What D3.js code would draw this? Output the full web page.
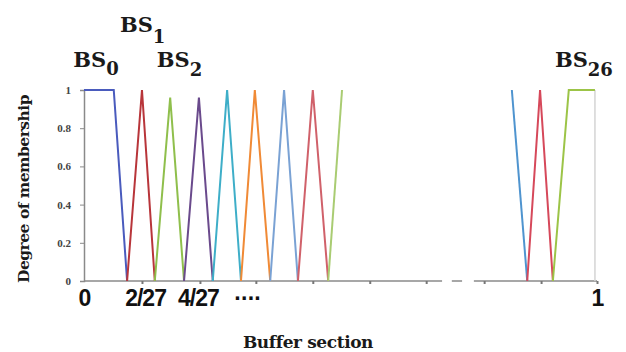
<!DOCTYPE html><html>
<head>
<meta charset="utf-8">
<title>Buffer section membership</title>
<style>
  body { margin: 0; background: #fff; }
  svg text { font-family: "DejaVu Serif", serif; }
</style>
</head><body>
<svg width="626" height="352"></svg>

<script src="https://cdn.jsdelivr.net/npm/d3@7"></script>
<script>
// membership functions: [x, degree] corners
var sections = [
  { name: 'BS0',  color: '#4a5bbd', pts: [[0, 1], [0.058, 1], [0.084, 0]] },
  { name: 'BS1',  color: '#b8353a', pts: [[0.084, 0], [0.113, 1], [0.138, 0]] },
  { name: 'BS2',  color: '#8fbf4c', pts: [[0.138, 0], [0.168, 0.96], [0.195, 0]] },
  { name: 'BS3',  color: '#6a4a8c', pts: [[0.195, 0], [0.224, 0.96], [0.251, 0]] },
  { name: 'BS4',  color: '#3eaec8', pts: [[0.251, 0], [0.279, 1], [0.306, 0]] },
  { name: 'BS5',  color: '#f08a36', pts: [[0.306, 0], [0.333, 1], [0.363, 0]] },
  { name: 'BS6',  color: '#7aa2d4', pts: [[0.363, 0], [0.390, 1], [0.417, 0]] },
  { name: 'BS7',  color: '#d0616a', pts: [[0.417, 0], [0.446, 1], [0.476, 0]] },
  { name: 'BS8',  color: '#a9cc72', pts: [[0.476, 0], [0.503, 1]] },
  { name: 'BS24', color: '#4f94cf', pts: [[0.834, 1], [0.864, 0]] },
  { name: 'BS25', color: '#d6485a', pts: [[0.864, 0], [0.889, 1], [0.914, 0]] },
  { name: 'BS26', color: '#9cc447', pts: [[0.914, 0], [0.945, 1], [0.996, 1]] }
];

var yTicks = [0, 0.2, 0.4, 0.6, 0.8, 1];
var xMinorTicks = [0.113, 0.226, 0.335, 0.446, 0.557, 0.667, 0.780, 0.891, 1];
var xLabelPos = [0, 0.119, 0.222, 0.318, 1];
var xLabels = ['0', '2/27', '4/27', '\u00b7\u00b7\u00b7\u00b7', '1'];
// broken x axis: solid, dash, solid
var axisPieces = [[0, 0.698], [0.717, 0.737], [0.760, 1]];

var bsLabels = [
  { main: 'BS', sub: '0',  x: -0.021, y: 1.12, dy: 8 },
  { main: 'BS', sub: '1',  x: 0.070, y: 1.305, dy: 11 },
  { main: 'BS', sub: '2',  x: 0.142, y: 1.12, dy: 9 },
  { main: 'BS', sub: '26', x: 0.918, y: 1.12, dy: 9 }
];

var svg = d3.select('svg');
var x = d3.scaleLinear().domain([0, 1]).range([84, 597]);
var y = d3.scaleLinear().domain([0, 1]).range([281, 90]);

// y axis
var ya = svg.append('g')
    .attr('transform', 'translate(84,0)')
    .call(d3.axisLeft(y).tickValues(yTicks).tickSize(4).tickPadding(9)
      .tickFormat(function(d) { return d === 0 || d === 1 ? d : d.toFixed(1); }));
ya.select('.domain').attr('stroke', '#8a8a8a').attr('stroke-width', 1.5);
ya.selectAll('.tick line').attr('stroke', '#8a8a8a');
ya.selectAll('.tick text')
    .attr('fill', '#444')
    .style('font-family', '"Liberation Serif", serif')
    .style('font-size', '11px')
    .style('font-weight', 'bold');

// x axis pieces
svg.selectAll('line.xa')
    .data(axisPieces)
  .enter()
    .append('line')
    .attr('class', 'xa')
    .attr('x1', function(d) { return x(d[0]); })
    .attr('x2', function(d) { return x(d[1]); })
    .attr('y1', y(0))
    .attr('y2', y(0))
    .attr('stroke', '#8a8a8a')
    .attr('stroke-width', 1.5);

var xt = svg.append('g')
    .attr('transform', 'translate(0,' + y(0) + ')')
    .call(d3.axisBottom(x).tickValues(xMinorTicks).tickSize(3).tickFormat(''));
xt.select('.domain').remove();
xt.selectAll('.tick line').attr('stroke', '#777').attr('stroke-width', 2);

var xl = svg.append('g')
    .attr('transform', 'translate(0,' + y(0) + ')')
    .call(d3.axisBottom(x).tickValues(xLabelPos).tickSize(0).tickPadding(9)
      .tickFormat(function(d, i) { return xLabels[i]; }));
xl.select('.domain').remove();
xl.selectAll('.tick text')
    .attr('fill', '#111')
    .style('font-family', '"Liberation Sans", Arial, sans-serif')
    .style('font-size', '23px')
    .style('font-weight', 'bold')
    .style('letter-spacing', '-1px');

// light right edge of the plot
svg.append('line')
    .attr('x1', x(0.996)).attr('x2', x(0.996))
    .attr('y1', y(1)).attr('y2', y(0))
    .attr('stroke', '#d4d4d4').attr('stroke-width', 1.5);

// membership lines
var line = d3.line()
    .x(function(d) { return x(d[0]); })
    .y(function(d) { return y(d[1]); });

svg.selectAll('path.bs')
    .data(sections)
  .enter()
    .append('path')
    .attr('class', 'bs')
    .attr('d', function(d) { return line(d.pts); })
    .attr('fill', 'none')
    .attr('stroke', function(d) { return d.color; })
    .attr('stroke-width', 2);

// BS labels with subscripts
var lab = svg.selectAll('text.bsl')
    .data(bsLabels)
  .enter()
    .append('text')
    .attr('class', 'bsl')
    .attr('x', function(d) { return x(d.x); })
    .attr('y', function(d) { return y(d.y); })
    .attr('fill', '#1a1a1a')
    .style('font-size', '21px')
    .style('font-weight', 'bold');
lab.append('tspan').text(function(d) { return d.main; });
lab.append('tspan')
    .attr('dy', function(d) { return d.dy; })
    .style('font-size', '18px')
    .text(function(d) { return d.sub; });

// axis titles
svg.append('text')
    .attr('x', 308)
    .attr('y', 348)
    .attr('text-anchor', 'middle')
    .attr('fill', '#1a1a1a')
    .style('font-size', '17px')
    .style('font-weight', 'bold')
    .style('letter-spacing', '-0.4px')
    .text('Buffer section');

svg.append('text')
    .attr('transform', 'translate(29,189) rotate(-90)')
    .attr('text-anchor', 'middle')
    .attr('fill', '#1a1a1a')
    .style('font-size', '15.5px')
    .style('font-weight', 'bold')
    .style('letter-spacing', '-0.5px')
    .text('Degree of membership');
</script>
</body></html>
